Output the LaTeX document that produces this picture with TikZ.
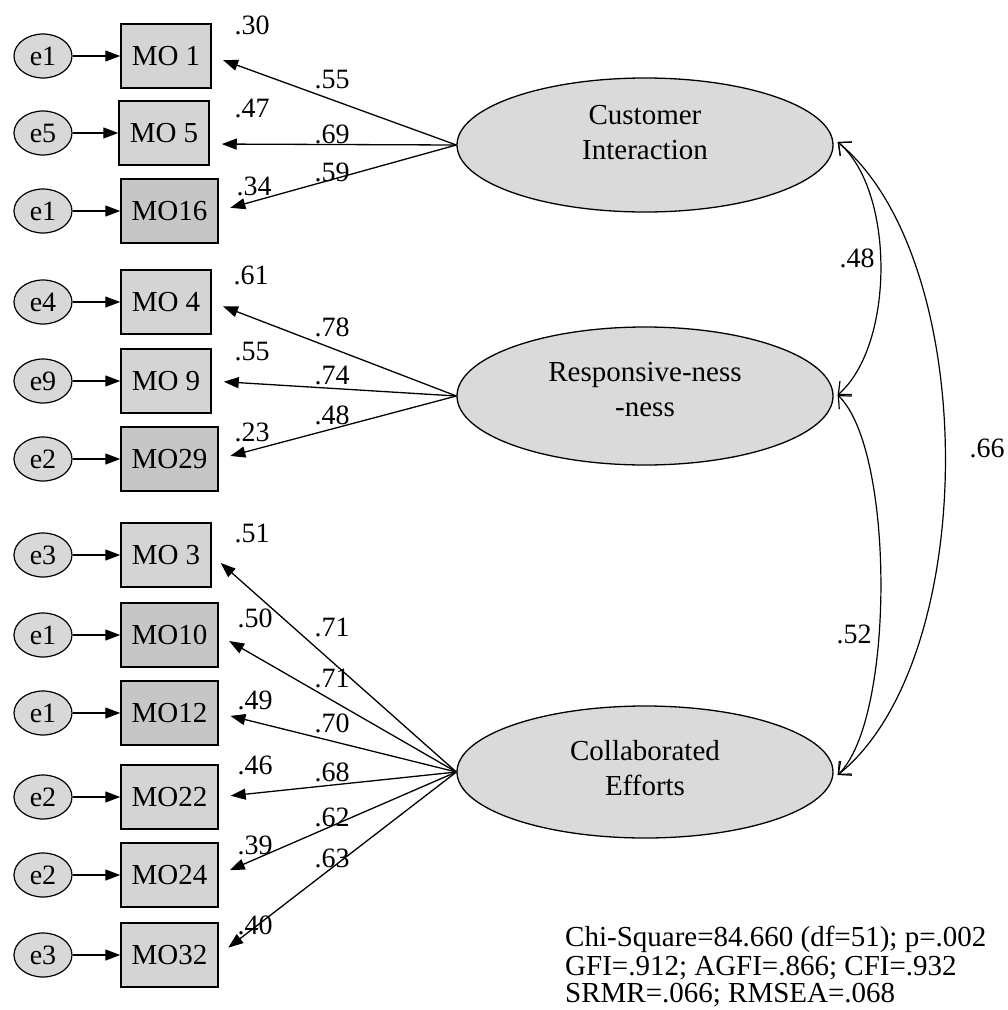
\documentclass[tikz,border=0pt]{standalone}
\usepackage{fontspec}
\setmainfont{Liberation Serif}
\usetikzlibrary{arrows.meta,shapes.geometric,calc}
\definecolor{boxfill}{HTML}{D4D4D4}
\definecolor{boxdark}{HTML}{C6C6C6}
\definecolor{errfill}{HTML}{D8D8D8}
\definecolor{latfill}{HTML}{DADADA}
\begin{document}
\begin{tikzpicture}[x=1pt,y=-1pt,
  errnode/.style={ellipse,draw,line width=1.2pt,fill=errfill,minimum width=58pt,minimum height=44pt,inner sep=0pt,font=\fontsize{28}{30}\selectfont},
  obsbox/.style={rectangle,draw,line width=1.5pt,fill=boxfill,minimum height=64pt,minimum width=90pt,inner sep=0pt,font=\fontsize{29}{30}\selectfont},
  obswide/.style={obsbox,minimum width=97pt},
  latnode/.style={ellipse,draw,line width=1.3pt,fill=latfill,minimum width=376pt,minimum height=134pt,inner sep=0pt},
  lattext/.style={align=center,inner sep=0pt,font=\fontsize{29}{35}\selectfont},
  erarrow/.style={line width=1.3pt,-{Triangle[length=15pt,width=11pt]}},
  loadarrow/.style={line width=1.3pt,-{Triangle[length=15pt,width=11pt]},shorten >=12pt},
  covarrow/.style={line width=1.2pt,{Straight Barb[length=10pt,width=18pt]}-{Straight Barb[length=10pt,width=18pt]}},
  coef/.style={font=\fontsize{28}{30}\selectfont,inner sep=0pt},
  stat/.style={font=\fontsize{29}{32}\selectfont,inner sep=0pt,anchor=base west}
]
\useasboundingbox (0,0) rectangle (1008,1010);

% observed variables
\node[obsbox]  (MO1)  at (166,56)    {MO 1};
\node[obsbox]  (MO5)  at (164,133)   {MO 5};
\node[obswide,fill=boxdark] (MO16) at (169.5,211) {MO16};
\node[obsbox]  (MO4)  at (166,302)   {MO 4};
\node[obsbox]  (MO9)  at (166,381)   {MO 9};
\node[obswide,fill=boxdark] (MO29) at (169.5,459) {MO29};
\node[obsbox]  (MO3)  at (166,555)   {MO 3};
\node[obswide,fill=boxdark] (MO10) at (169.5,635) {MO10};
\node[obswide,fill=boxdark] (MO12) at (169.5,713) {MO12};
\node[obswide] (MO22) at (169.5,797) {MO22};
\node[obswide] (MO24) at (169.5,875) {MO24};
\node[obswide] (MO32) at (169.5,955) {MO32};

% error terms
\node[errnode] (eA) at (43,56)  {e1};
\node[errnode] (eB) at (43,133) {e5};
\node[errnode] (eC) at (43,211) {e1};
\node[errnode] (eD) at (43,302) {e4};
\node[errnode] (eE) at (43,381) {e9};
\node[errnode] (eF) at (43,459) {e2};
\node[errnode] (eG) at (43,555) {e3};
\node[errnode] (eH) at (43,635) {e1};
\node[errnode] (eI) at (43,713) {e1};
\node[errnode] (eJ) at (43,797) {e2};
\node[errnode] (eK) at (43,875) {e2};
\node[errnode] (eL) at (43,955) {e3};

\foreach \e/\m in {eA/MO1,eB/MO5,eC/MO16,eD/MO4,eE/MO9,eF/MO29,eG/MO3,eH/MO10,eI/MO12,eJ/MO22,eK/MO24,eL/MO32}
  \draw[erarrow] (\e) -- (\m);

% latent variables
\node[latnode] (CI) at (645,145) {};
\node[latnode,minimum height=138pt] (RE) at (645,396) {};
\node[latnode,minimum height=132pt] (CE) at (645,772) {};
\node[lattext] (CIt) at (645,133) {Customer\\Interaction};
\node[lattext] (REt) at (645,390) {Responsive-ness\\-ness};
\node[lattext] (CEt) at (645,768) {Collaborated\\Efforts};

% loadings
\draw[loadarrow] (CI.west) -- (MO1.east);
\draw[loadarrow] (CI.west) -- ($(MO5.east)+(0,11)$);
\draw[loadarrow] (CI.west) -- (MO16.east);
\draw[loadarrow] (RE.west) -- (MO4.east);
\draw[loadarrow] (RE.west) -- (MO9.east);
\draw[loadarrow] (RE.west) -- (MO29.east);
\draw[loadarrow] (CE.west) -- (MO3.east);
\draw[loadarrow] (CE.west) -- (MO10.east);
\draw[loadarrow] (CE.west) -- (MO12.east);
\draw[loadarrow] (CE.west) -- (MO22.east);
\draw[loadarrow] (CE.west) -- (MO24.east);
\draw[loadarrow] (CE.west) -- (MO32.east);

% loading coefficients
\node[coef] (l1) at (332,80)  {.55};
\node[coef] (l2) at (332,134) {.69};
\node[coef] (l3) at (332,172) {.59};
\node[coef] (l4) at (332,327) {.78};
\node[coef] (l5) at (332,375) {.74};
\node[coef] (l6) at (332,415) {.48};
\node[coef] (l7) at (332,627) {.71};
\node[coef] (l8) at (332,678) {.71};
\node[coef] (l9) at (332,723) {.70};
\node[coef] (l10) at (332,772) {.68};
\node[coef] (l11) at (332,817) {.62};
\node[coef] (l12) at (332,858) {.63};

% squared multiple correlations
\node[coef] (r1) at (252,25)  {.30};
\node[coef] (r2) at (252,108) {.47};
\node[coef] (r3) at (254,186) {.34};
\node[coef] (r4) at (251,275) {.61};
\node[coef] (r5) at (252,352) {.55};
\node[coef] (r6) at (252,432) {.23};
\node[coef] (r7) at (252,533) {.51};
\node[coef] (r8) at (255,618) {.50};
\node[coef] (r9) at (255,700) {.49};
\node[coef] (r10) at (255,765) {.46};
\node[coef] (r11) at (255,845) {.39};
\node[coef] (r12) at (255,925) {.40};

% covariances
\draw[covarrow] ($(CI.east)+(4,-3)$) .. controls (895,190) and (895,345) .. ($(RE.east)+(4,-1)$);
\draw[covarrow] ($(RE.east)+(4,-1)$) .. controls (895,450) and (895,720) .. ($(CE.east)+(4,3)$);
\draw[covarrow] ($(CI.east)+(4,-3)$) .. controls (981,260) and (981,660) .. ($(CE.east)+(4,3)$);
\node[coef,fill=white,inner sep=1pt] (c1) at (857,258) {.48};
\node[coef,fill=white,inner sep=1pt] (c2) at (854,634) {.52};
\node[coef] (c3) at (987,448) {.66};

% fit statistics
\node[stat] (s1) at (565,946)  {Chi-Square=84.660 (df=51); p=.002};
\node[stat] (s2) at (565,975)  {GFI=.912; AGFI=.866; CFI=.932};
\node[stat] (s3) at (565,1002) {SRMR=.066; RMSEA=.068};
\end{tikzpicture}
\end{document}
